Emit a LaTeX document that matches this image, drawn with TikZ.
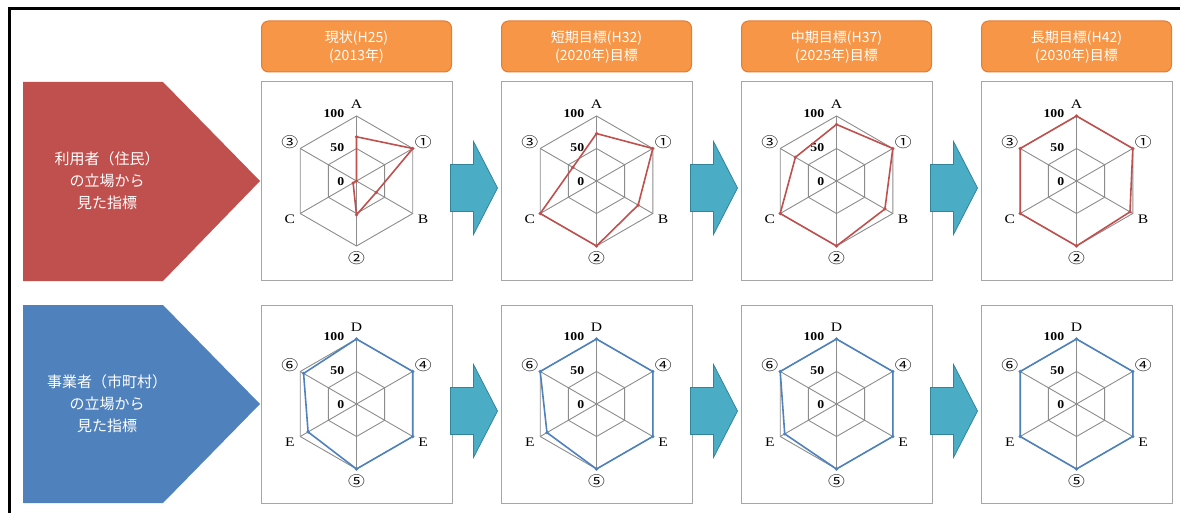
\documentclass[tikz,border=0pt]{standalone}
\usepackage{fontspec}
\setmainfont{Liberation Serif}
\newfontfamily\jpfont{Noto Sans CJK JP}
\usepackage{tikz}
\usetikzlibrary{positioning, calc}
\definecolor{hdrfill}{RGB}{247,150,70}
\definecolor{hdrline}{RGB}{226,124,52}
\definecolor{userred}{RGB}{192,80,77}
\definecolor{bizblue}{RGB}{79,129,189}
\definecolor{stepteal}{RGB}{75,172,198}
\definecolor{stepline}{RGB}{49,133,155}
\definecolor{gridgray}{RGB}{140,140,140}

\tikzset{
  hdr/.style={rectangle, rounded corners=7pt, fill=hdrfill, draw=hdrline, line width=1pt, minimum width=190pt, minimum height=51pt, align=center, text=white, font=\jpfont\fontsize{14}{18}\selectfont},
  chartbox/.style={rectangle, draw=gray!70, line width=1pt, minimum width=191pt, minimum height=198pt},
  sidetext/.style={align=center, text=white, font=\jpfont\fontsize{15}{22}\selectfont},
  axislbl/.style={font=\fontsize{13}{13}\selectfont, inner sep=0pt, xscale=1.2},
  scalelbl/.style={font=\bfseries\fontsize{12}{12}\selectfont, inner sep=0pt, anchor=east, xscale=1.15},
  gridline/.style={draw=gridgray, line width=0.9pt},
}
\newcommand{\circnum}[1]{{\jpfont\fontsize{14}{14}\selectfont #1}}

\newcommand{\radar}[4]{%
  \begin{scope}[shift={(#1.center)}, y=1pt]
    \foreach \rad in {32.5,65}
      \draw[gridline] (90:\rad) -- (30:\rad) -- (-30:\rad) -- (-90:\rad) -- (-150:\rad) -- (150:\rad) -- cycle;
    \foreach \ang in {90,30,...,-210}
      \draw[gridline] (0,0) -- (\ang:65);
    \foreach \lbl [count=\i] in {#3}
      \node[axislbl] (#1-l\i) at ({150-60*\i}:77) {\lbl};
    \node[scalelbl] (#1-s100) at (-12,67) {100};
    \node[scalelbl] (#1-s50) at (-12,33) {50};
    \node[scalelbl] (#1-s0) at (-12,-1) {0};
    \foreach \v [count=\i] in {#4}
      \coordinate (#1-p\i) at ({150-60*\i}:{0.65*\v});
    \draw[#2, line width=1.6pt, line join=round] (#1-p1) -- (#1-p2) -- (#1-p3) -- (#1-p4) -- (#1-p5) -- (#1-p6) -- cycle;
    \foreach \i in {1,...,6}
      \fill[#2] (#1-p\i) circle (1.8pt);
  \end{scope}}

\begin{document}
\begin{tikzpicture}[x=1pt, y=-1pt]
    \useasboundingbox (0,0) rectangle (1180,513);
    \draw[line width=3pt] (9,513) -- (9,8.5) -- (1180,8.5);

    \node (c11) [chartbox] at (356.5,181) {};
    \node (c12) [chartbox, right=48pt of c11] {};
    \node (c13) [chartbox, right=48pt of c12] {};
    \node (c14) [chartbox, right=48pt of c13] {};
    \node (c21) [chartbox] at (356.5,404) {};
    \node (c22) [chartbox, right=48pt of c21] {};
    \node (c23) [chartbox, right=48pt of c22] {};
    \node (c24) [chartbox, right=48pt of c23] {};

    \node (h1) [hdr, above=9pt of c11] {現状(H25)\\(2013年)};
    \node (h2) [hdr, above=9pt of c12] {短期目標(H32)\\(2020年)目標};
    \node (h3) [hdr, above=9pt of c13] {中期目標(H37)\\(2025年)目標};
    \node (h4) [hdr, above=9pt of c14] {長期目標(H42)\\(2030年)目標};

    \fill[userred] (23,82) -- (163,82) -- (260,181) -- (163,281) -- (23,281) -- cycle;
    \node (user) [sidetext] at (107,181) {利用者（住民）\\の立場から\\見た指標};
    \fill[bizblue] (23,305) -- (163,305) -- (260,404) -- (163,503) -- (23,503) -- cycle;
    \node (biz) [sidetext] at (107,404) {事業者（市町村）\\の立場から\\見た指標};

    \radar{c11}{userred}{A,\circnum{①},B,\circnum{②},C,\circnum{③}}{68,100,35,52,6,0}
    \radar{c12}{userred}{A,\circnum{①},B,\circnum{②},C,\circnum{③}}{73,100,74,100,100,42}
    \radar{c13}{userred}{A,\circnum{①},B,\circnum{②},C,\circnum{③}}{87,100,86,100,100,73}
    \radar{c14}{userred}{A,\circnum{①},B,\circnum{②},C,\circnum{③}}{100,100,95,100,100,100}
    \radar{c21}{bizblue}{D,\circnum{④},E,\circnum{⑤},E,\circnum{⑥}}{100,100,100,100,86,94}
    \radar{c22}{bizblue}{D,\circnum{④},E,\circnum{⑤},E,\circnum{⑥}}{100,100,100,100,88,100}
    \radar{c23}{bizblue}{D,\circnum{④},E,\circnum{⑤},E,\circnum{⑥}}{100,100,100,100,92,100}
    \radar{c24}{bizblue}{D,\circnum{④},E,\circnum{⑤},E,\circnum{⑥}}{100,100,100,100,100,100}

    \foreach \a/\b in {c11/c12,c12/c13,c13/c14,c21/c22,c22/c23,c23/c24}
      \draw[stepline, fill=stepteal, line width=0.8pt] ($(\a.east)+(-2,-16.5)$) -- ($(\a.east)+(21,-16.5)$) -- ($(\a.east)+(21,-39.5)$) -- ($(\b.west)+(-3,7)$) -- ($(\a.east)+(21,53.5)$) -- ($(\a.east)+(21,30.5)$) -- ($(\a.east)+(-2,30.5)$) -- cycle;
\end{tikzpicture}
\end{document}
